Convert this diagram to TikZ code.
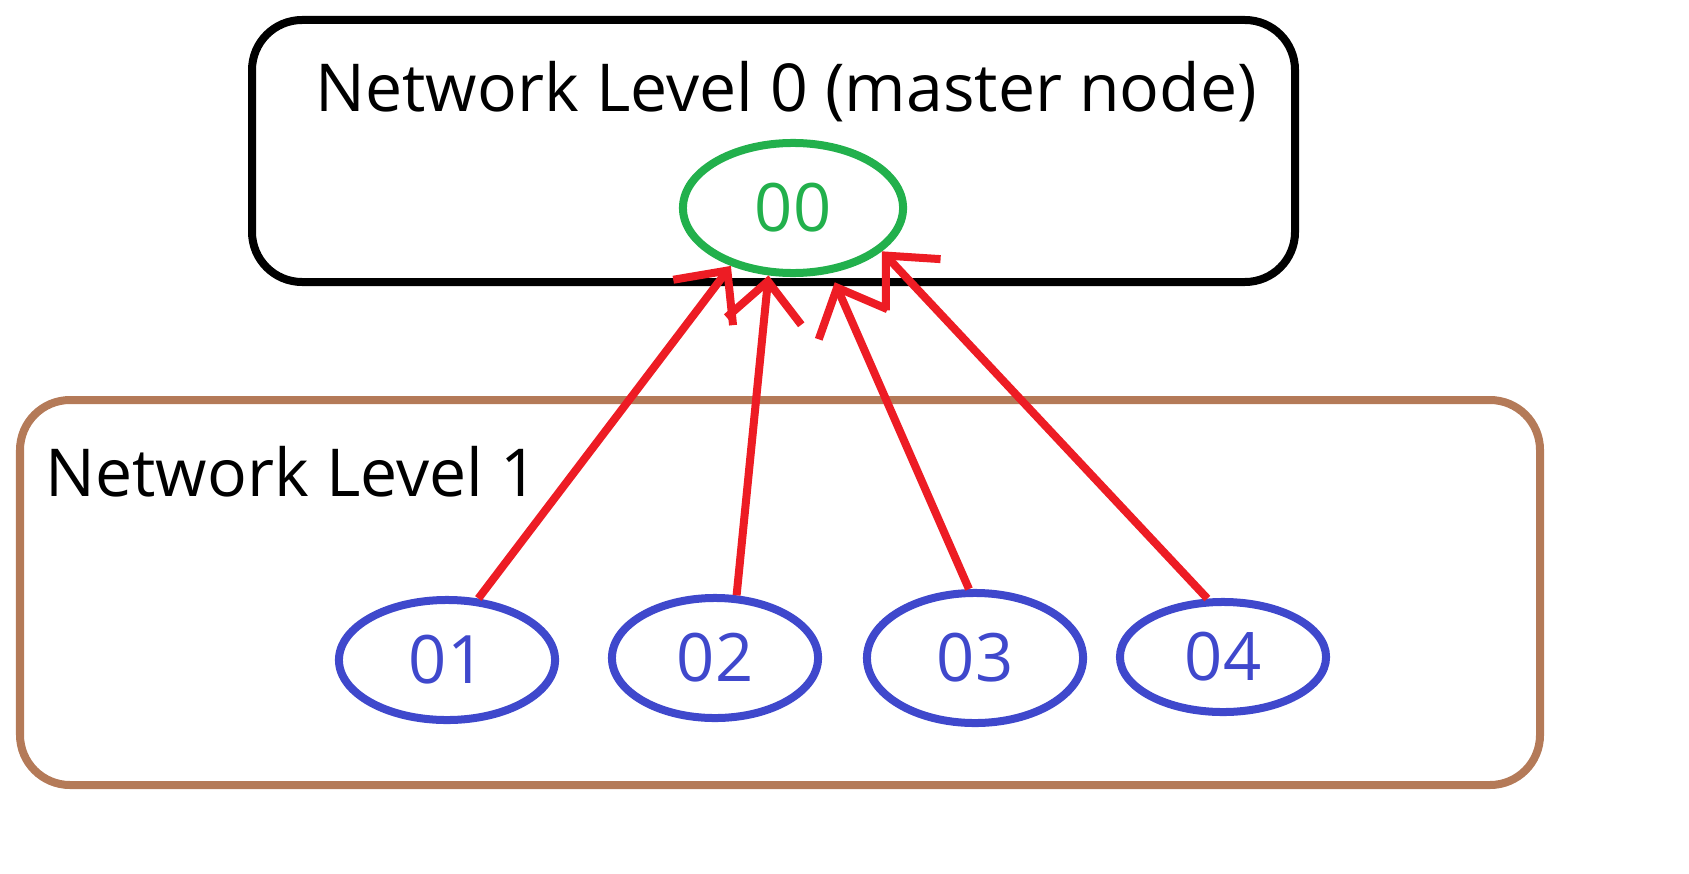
\documentclass[tikz,border=0pt]{standalone}
\usepackage{fontspec}
\setmainfont{Open Sans}
\usetikzlibrary{arrows.meta,shapes.geometric}
\definecolor{brn}{RGB}{180,122,88}
\definecolor{grn}{RGB}{34,176,76}
\definecolor{blu}{RGB}{63,72,204}
\definecolor{rd}{RGB}{237,28,36}
\begin{document}
\begin{tikzpicture}[x=0.01cm,y=-0.01cm,
  box/.style={draw,line width=0.08cm,rounded corners=0.5cm},
  ell/.style={draw=blu,text=blu,ellipse,line width=0.08cm,inner sep=0pt,font=\fontsize{19}{22}\selectfont},
  arr/.style={draw=rd,line width=0.08cm,-{Straight Barb[length=0.4cm,width=0.75cm]}},
  lbl/.style={font=\fontsize{18.8}{22}\selectfont,inner sep=0pt}]
\draw[box] (252,20) rectangle (1295,282);
\draw[box,draw=brn] (20,400) rectangle (1540,785);
\node[lbl,anchor=west] (t0) at (315,92) {Network Level 0 (master node)};
\node[lbl,anchor=west] (t1) at (45,472) {Network Level 1};
\node[ell,draw=grn,text=grn,minimum width=2.2cm,minimum height=1.3cm] (e0) at (793,208) {00};
\node[ell,minimum width=2.16cm,minimum height=1.2cm] (e1) at (447,660) {01};
\node[ell,minimum width=2.06cm,minimum height=1.2cm] (e2) at (715,658) {02};
\node[ell,minimum width=2.16cm,minimum height=1.3cm] (e3) at (975,658) {03};
\node[ell,minimum width=2.06cm,minimum height=1.1cm] (e4) at (1223,657) {04};
\draw[arr] (e1.63) -- (e0.223);
\draw[arr] (e2.71) -- (e0.250);
\draw[arr] (e3.95) -- ([shift={(0,10)}]e0.303);
\draw[arr] (e4.105) -- (e0.334);
\pgfresetboundingbox
\useasboundingbox (0,0) rectangle (1689,873);
\end{tikzpicture}
\end{document}
